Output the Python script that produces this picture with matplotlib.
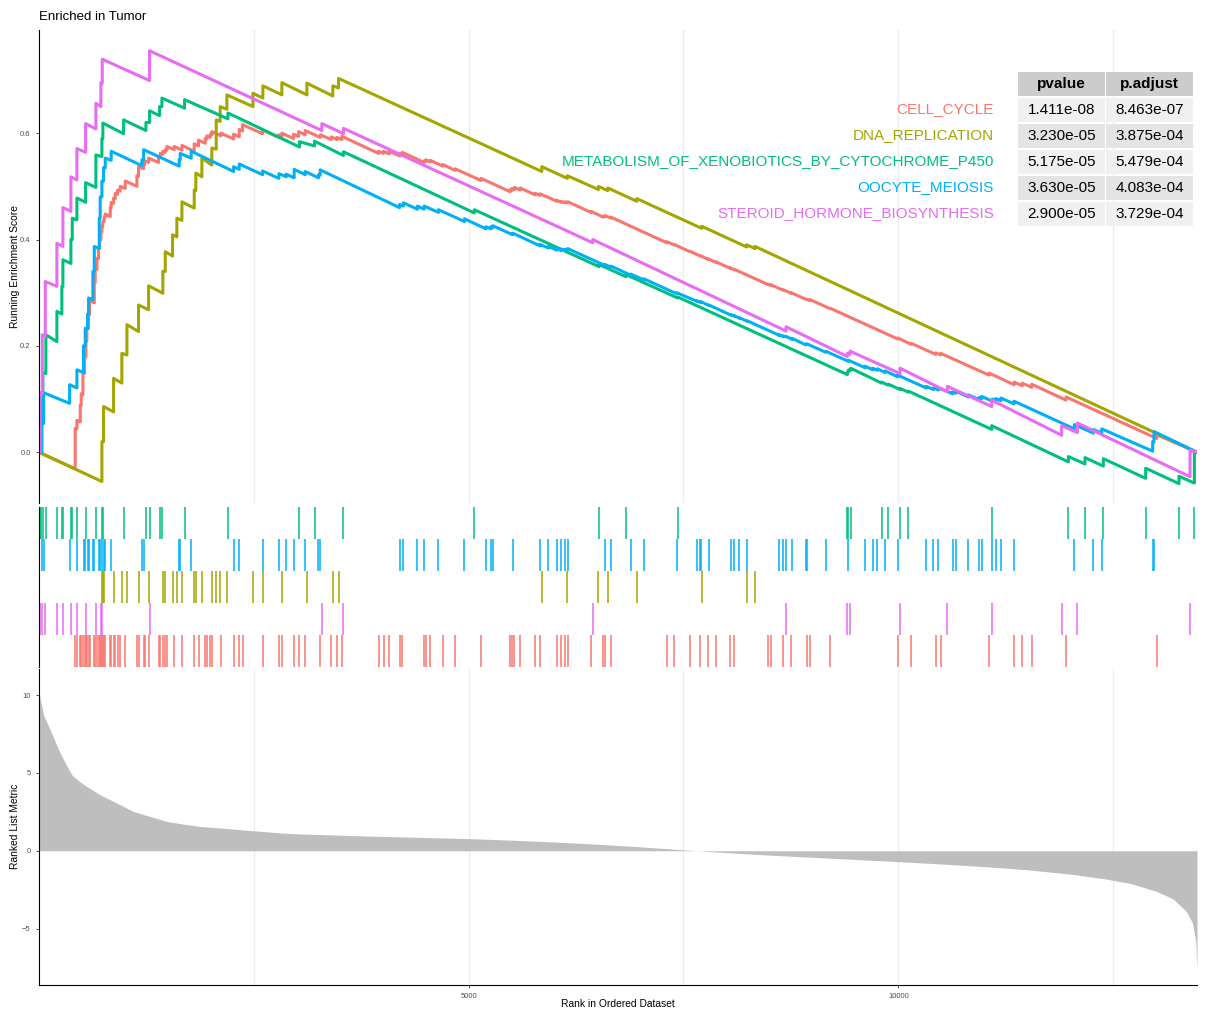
import numpy as np
import matplotlib.pyplot as plt
from matplotlib.patches import Rectangle

plt.rcParams['font.family'] = ['Liberation Sans', 'DejaVu Sans']

n_genes = 13475
set_names = ['CELL_CYCLE', 'DNA_REPLICATION',
             'METABOLISM_OF_XENOBIOTICS_BY_CYTOCHROME_P450',
             'OOCYTE_MEIOSIS', 'STEROID_HORMONE_BIOSYNTHESIS']
set_colors = ['#F8766D', '#A3A500', '#00BF7D', '#00B0F6', '#E76BF3']
pvalues = ['1.411e-08', '3.230e-05', '5.175e-05', '3.630e-05', '2.900e-05']
padjust = ['8.463e-07', '3.875e-04', '5.479e-04', '4.083e-04', '3.729e-04']
rug_order = [2, 3, 1, 4, 0]  # top to bottom

# running enrichment score, (rank, score) vertices
es_cell_cycle = [(1, 0), (422, -0.031), (422, 0.045), (442, 0.044), (442, 0.06), (481, 0.057), (481, 0.089),
                 (492, 0.088), (492, 0.11), (512, 0.108), (512, 0.149), (531, 0.148), (531, 0.18), (547, 0.179),
                 (547, 0.21), (558, 0.209), (558, 0.235), (578, 0.233), (578, 0.26), (589, 0.259), (589, 0.285),
                 (644, 0.281), (644, 0.32), (655, 0.319), (655, 0.345), (675, 0.344), (675, 0.365), (694, 0.364),
                 (694, 0.385), (706, 0.384), (706, 0.40), (721, 0.399), (721, 0.415), (733, 0.414), (733, 0.425),
                 (744, 0.424), (744, 0.435), (760, 0.434), (760, 0.443), (772, 0.442), (772, 0.448), (830, 0.443),
                 (830, 0.46), (841, 0.459), (841, 0.47), (869, 0.468), (869, 0.478), (888, 0.477), (888, 0.487),
                 (915, 0.485), (915, 0.493), (946, 0.491), (946, 0.50), (1004, 0.496), (1004, 0.51), (1140, 0.50),
                 (1140, 0.52), (1159, 0.519), (1159, 0.537), (1218, 0.533), (1218, 0.542), (1229, 0.541),
                 (1229, 0.548), (1276, 0.545), (1276, 0.553), (1392, 0.545), (1392, 0.556), (1411, 0.555),
                 (1411, 0.562), (1442, 0.56), (1442, 0.566), (1470, 0.564), (1470, 0.569), (1489, 0.568),
                 (1489, 0.575), (1574, 0.569), (1574, 0.575), (1664, 0.568), (1664, 0.577), (1807, 0.566),
                 (1807, 0.58), (1857, 0.576), (1857, 0.587), (1935, 0.581), (1935, 0.59), (1954, 0.589),
                 (1954, 0.595), (1993, 0.592), (1993, 0.598), (2012, 0.597), (2012, 0.603), (2117, 0.595),
                 (2117, 0.60), (2265, 0.589), (2265, 0.598), (2331, 0.593), (2331, 0.607), (2369, 0.604),
                 (2369, 0.616), (2602, 0.599), (2602, 0.606), (2788, 0.592), (2788, 0.597), (2827, 0.594),
                 (2827, 0.60), (2963, 0.59), (2963, 0.598), (3021, 0.594), (3021, 0.603), (3098, 0.597),
                 (3098, 0.605), (3273, 0.592), (3273, 0.597), (3401, 0.588), (3401, 0.593), (3467, 0.588),
                 (3467, 0.592), (3525, 0.588), (3525, 0.594), (3952, 0.562), (3952, 0.566), (4010, 0.562),
                 (4010, 0.566), (4076, 0.561), (4076, 0.566), (4204, 0.557), (4204, 0.562), (4227, 0.56),
                 (4227, 0.564), (4482, 0.545), (4482, 0.548), (4501, 0.547), (4501, 0.55), (4552, 0.546),
                 (4552, 0.549), (4699, 0.538), (4699, 0.541), (4843, 0.53), (4843, 0.533), (5145, 0.511),
                 (5145, 0.515), (5482, 0.49), (5482, 0.494), (5502, 0.492), (5502, 0.496), (5533, 0.494),
                 (5533, 0.498), (5599, 0.493), (5599, 0.497), (5773, 0.484), (5773, 0.487), (5831, 0.483),
                 (5831, 0.486), (6025, 0.472), (6025, 0.474), (6076, 0.47), (6076, 0.472), (6122, 0.469),
                 (6122, 0.471), (6153, 0.469), (6153, 0.471), (6425, 0.451), (6425, 0.453), (6568, 0.442),
                 (6568, 0.444), (6588, 0.443), (6588, 0.445), (6657, 0.44), (6657, 0.442), (7305, 0.394),
                 (7305, 0.396), (7390, 0.39), (7390, 0.391), (7577, 0.377), (7577, 0.378), (7693, 0.369),
                 (7693, 0.37), (7782, 0.363), (7782, 0.364), (7879, 0.357), (7879, 0.358), (8042, 0.346),
                 (8042, 0.347), (8092, 0.343), (8092, 0.344), (8488, 0.315), (8488, 0.316), (8515, 0.314),
                 (8515, 0.315), (8655, 0.305), (8655, 0.306), (8752, 0.299), (8752, 0.30), (8934, 0.287),
                 (8934, 0.288), (8973, 0.285), (8973, 0.287), (9205, 0.27), (9205, 0.271), (9993, 0.213),
                 (9993, 0.215), (10148, 0.203), (10148, 0.205), (10435, 0.184), (10435, 0.187), (10493, 0.183),
                 (10493, 0.186), (11055, 0.145), (11055, 0.149), (11346, 0.127), (11346, 0.132), (11443, 0.125),
                 (11443, 0.13), (11552, 0.122), (11552, 0.128), (11951, 0.098), (11951, 0.104), (13006, 0.026),
                 (13006, 0.033), (13475, 0)]
es_dna_replication = [(1, 0), (733, -0.055), (733, 0.02), (752, 0.02), (752, 0.086), (869, 0.076), (869, 0.139),
                      (965, 0.13), (965, 0.186), (1024, 0.183), (1024, 0.24), (1159, 0.227), (1159, 0.277),
                      (1276, 0.268), (1276, 0.313), (1442, 0.299), (1442, 0.34), (1470, 0.34), (1470, 0.377),
                      (1555, 0.369), (1555, 0.409), (1605, 0.405), (1605, 0.44), (1664, 0.436), (1664, 0.471),
                      (1807, 0.459), (1807, 0.493), (1826, 0.492), (1826, 0.525), (1896, 0.518), (1896, 0.553),
                      (2012, 0.54), (2012, 0.572), (2063, 0.57), (2063, 0.625), (2109, 0.622), (2109, 0.65),
                      (2187, 0.645), (2187, 0.672), (2490, 0.65), (2490, 0.675), (2606, 0.666), (2606, 0.689),
                      (2827, 0.672), (2827, 0.695), (3118, 0.672), (3118, 0.694), (3420, 0.67), (3420, 0.689),
                      (3486, 0.685), (3486, 0.703), (5851, 0.528), (5851, 0.537), (6149, 0.515), (6149, 0.52),
                      (6510, 0.494), (6510, 0.5), (6619, 0.492), (6619, 0.497), (6956, 0.472), (6956, 0.477),
                      (7712, 0.421), (7712, 0.425), (8236, 0.386), (8236, 0.39), (8333, 0.383), (8333, 0.387),
                      (13475, 0)]
es_metabolism = [(1, 0), (8, 0), (8, 0.05), (23, 0.05), (23, 0.10), (46, 0.10), (46, 0.15), (81, 0.148),
                 (81, 0.221), (209, 0.208), (209, 0.265), (267, 0.26), (267, 0.312), (279, 0.311), (279, 0.362),
                 (372, 0.355), (372, 0.40), (388, 0.40), (388, 0.44), (442, 0.437), (442, 0.478), (543, 0.47),
                 (543, 0.507), (663, 0.498), (663, 0.559), (733, 0.556), (733, 0.59), (744, 0.59), (744, 0.619),
                 (985, 0.599), (985, 0.625), (1245, 0.605), (1245, 0.62), (1287, 0.62), (1287, 0.642),
                 (1404, 0.633), (1404, 0.65), (1431, 0.65), (1431, 0.666), (1695, 0.647), (1695, 0.663),
                 (2199, 0.627), (2199, 0.638), (3032, 0.574), (3032, 0.584), (3207, 0.576), (3207, 0.585),
                 (3544, 0.558), (3544, 0.565), (5067, 0.45), (5067, 0.456), (6518, 0.349), (6518, 0.353),
                 (6832, 0.33), (6832, 0.334), (7433, 0.29), (7433, 0.292), (9407, 0.146), (9407, 0.151),
                 (9420, 0.151), (9420, 0.155), (9446, 0.154), (9446, 0.158), (9806, 0.13), (9806, 0.132),
                 (9884, 0.126), (9884, 0.128), (10020, 0.118), (10020, 0.12), (10117, 0.113), (10117, 0.115),
                 (11086, 0.043), (11086, 0.05), (11978, -0.018), (11978, -0.008), (12172, -0.022),
                 (12172, -0.01), (12385, -0.026), (12385, -0.012), (12878, -0.049), (12878, -0.03),
                 (13266, -0.059), (13266, -0.045), (13444, -0.058), (13444, -0.002), (13475, 0)]
es_oocyte = [(1, 0), (35, 0), (35, 0.055), (54, 0.054), (54, 0.112), (357, 0.092), (357, 0.127), (442, 0.121),
             (442, 0.155), (519, 0.15), (519, 0.20), (539, 0.2), (539, 0.233), (566, 0.232), (566, 0.26),
             (578, 0.26), (578, 0.29), (628, 0.287), (628, 0.34), (644, 0.34), (644, 0.387), (702, 0.383),
             (702, 0.44), (713, 0.44), (713, 0.48), (733, 0.48), (733, 0.51), (752, 0.51), (752, 0.535),
             (772, 0.535), (772, 0.553), (841, 0.549), (841, 0.566), (1198, 0.539), (1198, 0.55), (1218, 0.55),
             (1218, 0.569), (1632, 0.538), (1632, 0.55), (1644, 0.55), (1644, 0.562), (1772, 0.553),
             (1772, 0.566), (2265, 0.528), (2265, 0.537), (2331, 0.532), (2331, 0.542), (2602, 0.522),
             (2602, 0.529), (2792, 0.515), (2792, 0.524), (2877, 0.518), (2877, 0.523), (2970, 0.516),
             (2970, 0.532), (3098, 0.522), (3098, 0.528), (3253, 0.516), (3253, 0.522), (3273, 0.521),
             (3273, 0.531), (4196, 0.46), (4196, 0.466), (4242, 0.463), (4242, 0.469), (4405, 0.457),
             (4405, 0.463), (4482, 0.457), (4482, 0.463), (4649, 0.451), (4649, 0.456), (4951, 0.434),
             (4951, 0.439), (5203, 0.42), (5203, 0.424), (5258, 0.42), (5258, 0.424), (5281, 0.422),
             (5281, 0.426), (5513, 0.409), (5513, 0.412), (5831, 0.388), (5831, 0.391), (5928, 0.384),
             (5928, 0.387), (6025, 0.38), (6025, 0.383), (6076, 0.379), (6076, 0.382), (6122, 0.379),
             (6122, 0.382), (6153, 0.38), (6153, 0.383), (6588, 0.351), (6588, 0.353), (6657, 0.348),
             (6657, 0.35), (6886, 0.333), (6886, 0.335), (7041, 0.324), (7041, 0.326), (7421, 0.298),
             (7421, 0.3), (7654, 0.284), (7654, 0.285), (7693, 0.282), (7693, 0.283), (7704, 0.282),
             (7704, 0.283), (7794, 0.276), (7794, 0.277), (8050, 0.258), (8050, 0.259), (8089, 0.256),
             (8089, 0.257), (8150, 0.252), (8150, 0.253), (8244, 0.246), (8244, 0.247), (8612, 0.22),
             (8612, 0.221), (8655, 0.218), (8655, 0.219), (8693, 0.217), (8693, 0.218), (8767, 0.212),
             (8767, 0.214), (8922, 0.202), (8922, 0.203), (8934, 0.203), (8934, 0.204), (9155, 0.188),
             (9155, 0.19), (9419, 0.171), (9419, 0.173), (9613, 0.159), (9613, 0.162), (9702, 0.155),
             (9702, 0.158), (9756, 0.154), (9756, 0.157), (9845, 0.15), (9845, 0.153), (9993, 0.142),
             (9993, 0.145), (10322, 0.121), (10322, 0.124), (10408, 0.118), (10408, 0.121), (10466, 0.117),
             (10466, 0.121), (10632, 0.11), (10632, 0.113), (10667, 0.111), (10667, 0.115), (10815, 0.104),
             (10815, 0.108), (10939, 0.099), (10939, 0.103), (10970, 0.101), (10970, 0.105), (11094, 0.096),
             (11094, 0.1), (11133, 0.097), (11133, 0.101), (11195, 0.097), (11195, 0.102), (11346, 0.091),
             (11346, 0.096), (12048, 0.044), (12048, 0.052), (12269, 0.036), (12269, 0.043), (12366, 0.036),
             (12366, 0.044), (12959, 0.002), (12959, 0.02), (12975, 0.019), (12975, 0.039), (13475, 0)]
es_steroid = [(1, 0), (15, 0), (15, 0.112), (39, 0.11), (39, 0.221), (74, 0.218), (74, 0.321), (209, 0.312),
              (209, 0.393), (279, 0.387), (279, 0.46), (372, 0.453), (372, 0.518), (442, 0.512), (442, 0.571),
              (543, 0.564), (543, 0.618), (663, 0.608), (663, 0.656), (721, 0.65), (721, 0.695), (737, 0.694),
              (737, 0.739), (1287, 0.699), (1287, 0.755), (3292, 0.605), (3292, 0.618), (3544, 0.599),
              (3544, 0.609), (6444, 0.394), (6444, 0.40), (8693, 0.228), (8693, 0.236), (9407, 0.18),
              (9407, 0.186), (9438, 0.184), (9438, 0.19), (10020, 0.148), (10020, 0.158), (10570, 0.114),
              (10570, 0.124), (11086, 0.086), (11086, 0.098), (11900, 0.032), (11900, 0.05), (12083, 0.037),
              (12083, 0.055), (13394, -0.046), (13394, 0.004), (13475, 0)]
running_scores = [es_cell_cycle, es_dna_replication, es_metabolism, es_oocyte, es_steroid]

# ranks of the gene-set members (rug)
hits_cell_cycle = [422, 442, 481, 492, 512, 531, 547, 558, 578, 589, 644, 655, 675, 694, 706, 721, 733, 744,
                   760, 772, 830, 841, 869, 888, 915, 946, 1004, 1140, 1159, 1218, 1229, 1276, 1392, 1411, 1442,
                   1470, 1489, 1574, 1664, 1807, 1857, 1935, 1954, 1993, 2012, 2117, 2265, 2331, 2369, 2602,
                   2788, 2827, 2963, 3021, 3098, 3273, 3401, 3467, 3525, 3952, 4010, 4076, 4204, 4227, 4482,
                   4501, 4552, 4699, 4843, 5145, 5482, 5502, 5533, 5599, 5773, 5831, 6025, 6076, 6122, 6153,
                   6425, 6568, 6588, 6657, 7305, 7390, 7577, 7693, 7782, 7879, 8042, 8092, 8488, 8515, 8655,
                   8752, 8934, 8973, 9205, 9993, 10148, 10435, 10493, 11055, 11346, 11443, 11552, 11951, 13006]
hits_dna_replication = [733, 745, 752, 869, 965, 1024, 1159, 1276, 1442, 1470, 1555, 1605, 1664, 1807, 1826,
                        1896, 2012, 2063, 2109, 2187, 2490, 2606, 2827, 3118, 3420, 3486, 5851, 6149, 6510,
                        6619, 6956, 7712, 8236, 8333]
hits_metabolism = [8, 23, 46, 81, 209, 267, 279, 372, 388, 442, 543, 663, 733, 744, 985, 1245, 1287, 1404,
                   1431, 1695, 2199, 3032, 3207, 3544, 5067, 6518, 6832, 7433, 9407, 9420, 9446, 9806, 9884,
                   10020, 10117, 11086, 11978, 12172, 12385, 12878, 13266, 13444]
hits_oocyte = [35, 54, 357, 442, 519, 539, 566, 578, 628, 644, 702, 713, 733, 752, 772, 841, 1198, 1218, 1632,
               1644, 1772, 2265, 2331, 2602, 2792, 2877, 2970, 3098, 3253, 3273, 4196, 4242, 4405, 4482, 4649,
               4951, 5203, 5258, 5281, 5513, 5831, 5928, 6025, 6076, 6122, 6153, 6588, 6657, 6886, 7041, 7421,
               7654, 7693, 7704, 7794, 8050, 8089, 8150, 8244, 8612, 8655, 8693, 8767, 8922, 8934, 9155, 9419,
               9613, 9702, 9756, 9845, 9993, 10322, 10408, 10466, 10632, 10667, 10815, 10939, 10970, 11094,
               11133, 11195, 11346, 12048, 12269, 12366, 12959, 12975]
hits_steroid = [15, 39, 74, 209, 279, 372, 442, 543, 663, 721, 737, 1287, 3292, 3544, 6444, 8693, 9407, 9438,
                10020, 10570, 11086, 11900, 12083, 13394]
hits = [hits_cell_cycle, hits_dna_replication, hits_metabolism, hits_oocyte, hits_steroid]

# ranked list metric
metric_rank = [1, 8, 15, 35, 54, 90, 131, 190, 248, 320, 384, 460, 558, 713, 907, 1100, 1295, 1489, 1683,
               1876, 2264, 2505, 2846, 3040, 3500, 4000, 4500, 5000, 5500, 6000, 6500, 7000, 7500, 8000, 8500,
               9000, 9500, 10000, 10500, 11000, 11500, 12000, 12400, 12700, 13000, 13200, 13350, 13420, 13460,
               13475]
metric_value = [10.2, 10.05, 9.7, 9.26, 8.72, 8.25, 7.76, 7.0, 6.26, 5.5, 4.87, 4.5, 4.12, 3.59, 3.06, 2.52,
                2.2, 1.88, 1.71, 1.56, 1.39, 1.28, 1.13, 1.08, 1.0, 0.92, 0.85, 0.78, 0.68, 0.56, 0.42, 0.25,
                0.06, -0.12, -0.28, -0.42, -0.56, -0.7, -0.85, -1.02, -1.22, -1.5, -1.8, -2.1, -2.6, -3.1, -3.9,
                -4.6, -5.8, -7.69]

W, H = 1206, 1018
fig = plt.figure(figsize=(W / 100, H / 100), dpi=100)


def box(l, t, r, b):
    return [l / W, 1 - b / H, (r - l) / W, (b - t) / H]


ax1 = fig.add_axes(box(39, 30, 1197, 503))
ax2 = fig.add_axes(box(39, 507, 1197, 667))
ax3 = fig.add_axes(box(39, 669, 1197, 985))

for ax in (ax1, ax2, ax3):
    ax.set_xlim(1, n_genes)
    for s in ('top', 'right'):
        ax.spines[s].set_visible(False)
    ax.spines['left'].set_linewidth(0.8)
    ax.tick_params(axis='both', labelsize=5.5, labelcolor='#4D4D4D', color='#333333', length=2.5, width=0.6)

for ax in (ax1, ax3):
    ax.set_xticks([5000, 10000])
    ax.set_xticks([2500, 7500, 12500], minor=True)
    ax.grid(axis='x', which='both', color='#EBEBEB', lw=0.9)
    ax.set_axisbelow(True)
    ax.tick_params(axis='x', which='minor', length=0)

# top: running enrichment score
for i in range(5):
    xs = [p[0] for p in running_scores[i]]
    ys = [p[1] for p in running_scores[i]]
    ax1.plot(xs, ys, color=set_colors[i], lw=2.2, solid_joinstyle='round')
ax1.set_ylim(-0.0954, 0.794)
ax1.set_yticks([0, 0.2, 0.4, 0.6])
ax1.set_yticklabels(['0.0', '0.2', '0.4', '0.6'])
ax1.spines['bottom'].set_visible(False)
ax1.tick_params(axis='x', which='both', length=0, labelbottom=False)

# middle: hit positions
for row, i in enumerate(rug_order):
    y0 = 4 - row
    ax2.vlines(hits[i], y0, y0 + 1, color=set_colors[i], lw=1.1)
ax2.set_ylim(0, 5)
ax2.set_yticks([])
ax2.set_xticks([])
ax2.spines['bottom'].set_visible(False)

# bottom: ranked list metric
ax3.fill_between(metric_rank, 0, metric_value, color='#BEBEBE', lw=0)
ax3.set_ylim(-8.62, 11.67)
ax3.set_yticks([-5, 0, 5, 10])
ax3.spines['bottom'].set_linewidth(0.8)

fig.text(39 / W, 1 - 17 / H, 'Enriched in Tumor', fontsize=9.5, ha='left', va='center')
fig.text(15 / W, 1 - 267 / H, 'Running Enrichment Score', fontsize=7.4, rotation=90, ha='center', va='center')
fig.text(15 / W, 1 - 826 / H, 'Ranked List Metric', fontsize=7.4, rotation=90, ha='center', va='center')
fig.text(618 / W, 1 - 1004 / H, 'Rank in Ordered Dataset', fontsize=7.4, ha='center', va='center')

# p-value table
tab = fig.add_axes([0, 0, 1, 1])
tab.set_xlim(0, W)
tab.set_ylim(H, 0)
tab.axis('off')
col_x = [1018, 1106]
col_w = 87
head_y, row_h = 72, 24
rows_y = [97.5 + 26 * k for k in range(5)]
for c, name in enumerate(['pvalue', 'p.adjust']):
    tab.add_patch(Rectangle((col_x[c], head_y), col_w, row_h, fc='#CCCCCC', ec='none'))
    tab.text(col_x[c] + col_w / 2, head_y + row_h / 2, name, fontsize=11, fontweight='bold',
             ha='center', va='center')
clip = Rectangle((564, 60), 452, 200, transform=tab.transData)
for k in range(5):
    fc = '#F0F0F0' if k % 2 == 0 else '#E4E4E4'
    for c, vals in enumerate([pvalues, padjust]):
        tab.add_patch(Rectangle((col_x[c], rows_y[k]), col_w, row_h, fc=fc, ec='none'))
        tab.text(col_x[c] + col_w / 2, rows_y[k] + row_h / 2, vals[k], fontsize=11,
                 ha='center', va='center')
    t = tab.text(994, rows_y[k] + row_h / 2, set_names[k], fontsize=11, color=set_colors[k],
                 ha='right', va='center')
    t.set_clip_path(clip)

fig.savefig('out.png', dpi=100)
